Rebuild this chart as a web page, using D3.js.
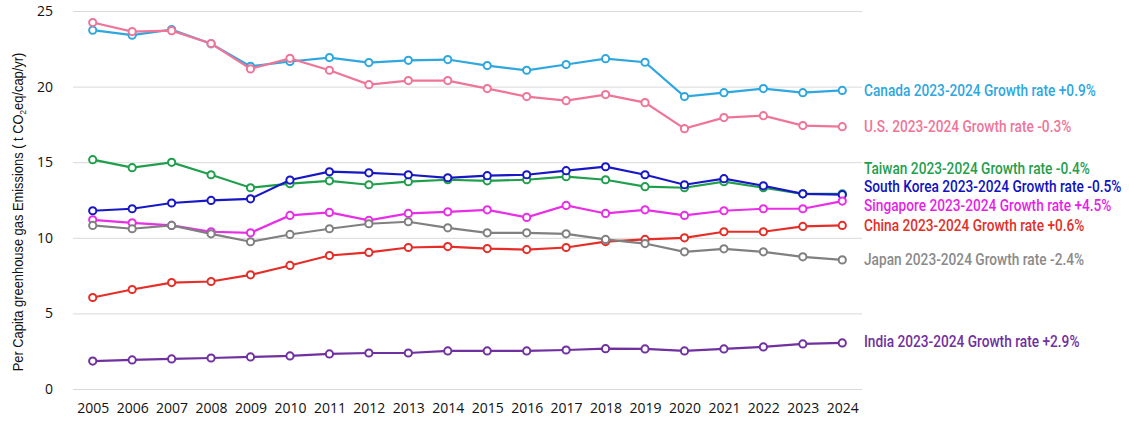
<!DOCTYPE html>
<html>
<head>
<meta charset="utf-8">
<script src="https://cdn.jsdelivr.net/npm/d3@7"></script>
<style>
  body { margin: 0; background: #fff; }
  svg { display: block; }
</style>
</head>
<body>
<div id="wrapper"></div>
<script>
// per capita GHG emissions, t CO2eq/cap/yr
const years = [2005, 2006, 2007, 2008, 2009, 2010, 2011, 2012, 2013, 2014,
               2015, 2016, 2017, 2018, 2019, 2020, 2021, 2022, 2023, 2024]
const canada     = [23.73, 23.40, 23.77, 22.83, 21.34, 21.66, 21.92, 21.59, 21.74, 21.79, 21.39, 21.08, 21.46, 21.85, 21.61, 19.34, 19.60, 19.87, 19.60, 19.75]
const us         = [24.24, 23.64, 23.70, 22.85, 21.17, 21.87, 21.08, 20.13, 20.40, 20.40, 19.87, 19.34, 19.07, 19.47, 18.94, 17.22, 17.95, 18.08, 17.42, 17.35]
const taiwan     = [15.17, 14.64, 14.99, 14.17, 13.31, 13.58, 13.77, 13.51, 13.71, 13.84, 13.77, 13.84, 14.04, 13.84, 13.38, 13.31, 13.71, 13.31, 12.91, 12.91]
const southKorea = [11.79, 11.92, 12.30, 12.47, 12.58, 13.82, 14.37, 14.30, 14.17, 13.97, 14.11, 14.17, 14.44, 14.70, 14.17, 13.51, 13.91, 13.44, 12.91, 12.85]
const singapore  = [11.19, 10.99, 10.82, 10.40, 10.33, 11.48, 11.68, 11.15, 11.61, 11.72, 11.85, 11.35, 12.14, 11.61, 11.85, 11.48, 11.79, 11.92, 11.92, 12.43]
const china      = [6.05, 6.58, 7.04, 7.11, 7.55, 8.17, 8.83, 9.03, 9.36, 9.42, 9.29, 9.22, 9.36, 9.75, 9.89, 10.00, 10.40, 10.40, 10.75, 10.82]
const japan      = [10.82, 10.60, 10.82, 10.26, 9.74, 10.22, 10.60, 10.93, 11.06, 10.66, 10.33, 10.33, 10.26, 9.89, 9.62, 9.07, 9.27, 9.07, 8.74, 8.54]
const india      = [1.85, 1.92, 1.99, 2.05, 2.12, 2.19, 2.32, 2.38, 2.38, 2.52, 2.52, 2.52, 2.58, 2.67, 2.65, 2.52, 2.65, 2.78, 2.98, 3.05]

const countries   = ['Canada', 'U.S.', 'Taiwan', 'South Korea', 'Singapore', 'China', 'Japan', 'India']
const growthRates = ['+0.9%', '-0.3%', '-0.4%', '-0.5%', '+4.5%', '+0.6%', '-2.4%', '+2.9%']
const yTicks = [0, 5, 10, 15, 20, 25]

const seriesValues = [canada, us, taiwan, southKorea, singapore, china, japan, india]
const colors = ['#2ea7df', '#ef7598', '#1f9e4c', '#1717c6', '#e82ee6', '#e42e27', '#808080', '#7030a0']
const labelColors = ['#2ea7df', '#ef7598', '#1f9e4c', '#1010c0', '#e81ee6', '#e42e27', '#8a8a8a', '#7030a0']
// label anchor heights (in chart units) so the right-hand labels do not collide
const labelAt = [19.75, 17.35, 14.57, 13.38, 12.12, 10.79, 8.54, 3.11]

let dimensions = {
    width: 1129,
    height: 425,
    margin: { top: 11, right: 267, bottom: 36, left: 73 }
}
dimensions.boundedWidth = dimensions.width - dimensions.margin.left - dimensions.margin.right
dimensions.boundedHeight = dimensions.height - dimensions.margin.top - dimensions.margin.bottom

const svg = d3.select('#wrapper').append('svg')
    .attr('width', dimensions.width)
    .attr('height', dimensions.height)

const bounds = svg.append('g')
    .attr('transform', `translate(${dimensions.margin.left},${dimensions.margin.top})`)

const xScale = d3.scalePoint()
    .domain(years)
    .range([0, dimensions.boundedWidth])
    .padding(0.5)

const yScale = d3.scaleLinear()
    .domain([0, 25])
    .range([dimensions.boundedHeight, 0])

// grid + y tick labels
const yAxis = d3.axisLeft(yScale)
    .tickValues(yTicks)
    .tickSize(-dimensions.boundedWidth)
    .tickPadding(20)
const yAxisG = bounds.append('g').call(yAxis)
yAxisG.select('.domain').remove()
yAxisG.selectAll('line').attr('stroke', '#d9d9d9')
yAxisG.selectAll('text')
    .attr('fill', '#111')
    .style('font-family', '"Open Sans", "Liberation Sans", sans-serif')
    .style('font-size', '14px')

const xAxis = d3.axisBottom(xScale).tickSize(0).tickPadding(14)
const xAxisG = bounds.append('g')
    .attr('transform', `translate(0,${dimensions.boundedHeight})`)
    .call(xAxis)
xAxisG.select('.domain').remove()
xAxisG.selectAll('text')
    .attr('fill', '#111')
    .style('font-family', '"Open Sans", "Liberation Sans", sans-serif')
    .style('font-size', '14px')

// y axis title
const title = svg.append('text')
    .attr('transform', 'translate(23,212) rotate(-90)')
    .attr('text-anchor', 'middle')
    .style('font-family', '"Liberation Sans", Arial, sans-serif')
    .style('font-size', '14px')
    .attr('fill', '#111')
title.append('tspan').text('Per Capita greenhouse gas Emissions ( t CO')
title.append('tspan').attr('dy', 3).style('font-size', '9px').text('2')
title.append('tspan').attr('dy', -3).text('eq/cap/yr)')
const titleW = title.node().getComputedTextLength()
title.attr('transform', `translate(23,212) rotate(-90) scale(${319 / titleW},1)`)

const line = d3.line()
    .x((d, i) => xScale(years[i]))
    .y(d => yScale(d))

const series = bounds.selectAll('.series')
    .data(seriesValues)
    .enter()
    .append('g')
    .attr('class', 'series')

series.append('path')
    .attr('d', d => line(d))
    .attr('fill', 'none')
    .attr('stroke', (d, i) => colors[i])
    .attr('stroke-width', 2.2)

series.each(function (vals, si) {
    d3.select(this).selectAll('circle')
        .data(vals)
        .enter()
        .append('circle')
        .attr('cx', (d, i) => xScale(years[i]))
        .attr('cy', d => yScale(d))
        .attr('r', 3.6)
        .attr('fill', '#fff')
        .attr('stroke', colors[si])
        .attr('stroke-width', 2)
})

// right-hand labels, condensed face
const labels = bounds.selectAll('.label')
    .data(countries)
    .enter()
    .append('text')
    .attr('class', 'label')
    .attr('dominant-baseline', 'central')
    .attr('fill', (d, i) => labelColors[i])
    .style('font-family', 'Roboto, "Liberation Sans", sans-serif')
    .style('font-weight', 500)
    .style('font-size', '17px')
    .text((d, i) => `${d} 2023-2024 Growth rate ${growthRates[i]}`)

const refW = labels.nodes()[0].getComputedTextLength()
const squeeze = 232 / refW
labels.attr('transform', (d, i) =>
    `translate(${dimensions.boundedWidth + 2},${yScale(labelAt[i])}) scale(${squeeze},1)`)
</script>
</body>
</html>
